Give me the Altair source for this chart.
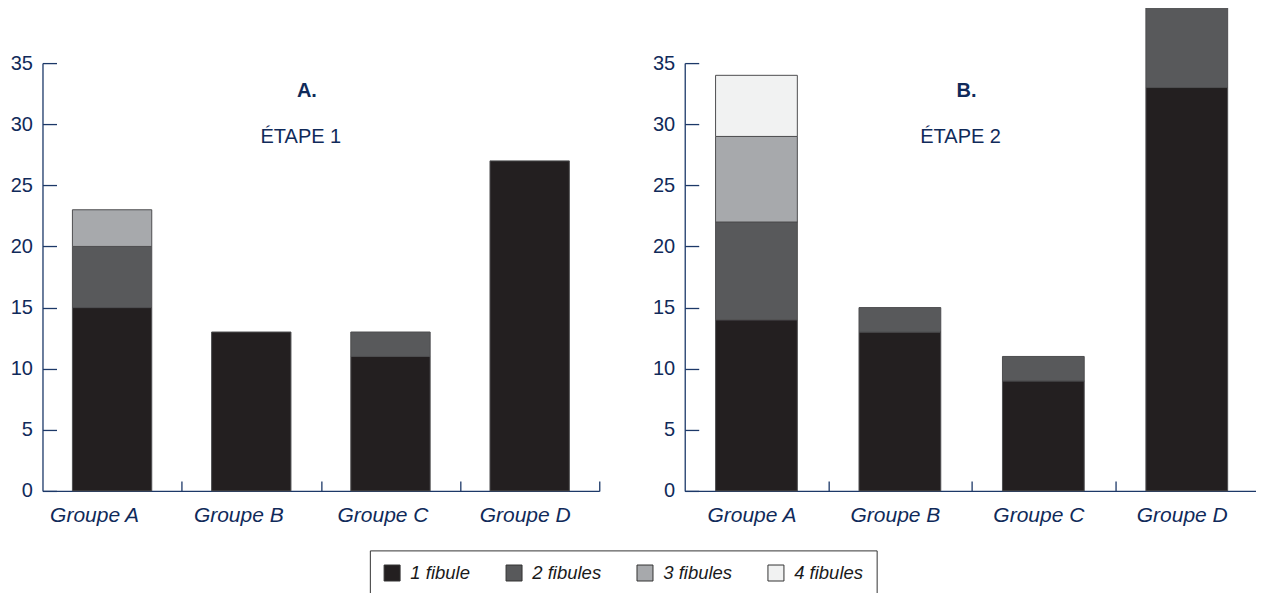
import altair as alt
import pandas as pd

groups = ["Groupe A", "Groupe B", "Groupe C", "Groupe D"]
categories = ["1 fibule", "2 fibules", "3 fibules", "4 fibules"]
colors = ["#231f20", "#58595b", "#a7a9ac", "#f1f2f2"]

# Étape 1 (panel A)
etape1_1 = [15, 13, 11, 27]
etape1_2 = [5, 0, 2, 0]
etape1_3 = [3, 0, 0, 0]
etape1_4 = [0, 0, 0, 0]

# Étape 2 (panel B)
etape2_1 = [14, 13, 9, 33]
etape2_2 = [8, 2, 2, 7]
etape2_3 = [7, 0, 0, 0]
etape2_4 = [5, 0, 0, 0]

y_ticks = [0, 5, 10, 15, 20, 25, 30, 35]

NAVY = "#102a5a"
AXIS = "#1c3868"
FONT = "Liberation Sans"


def make_df(series):
    rows = []
    for k, (cat, vals) in enumerate(zip(categories, series)):
        for g, v in zip(groups, vals):
            if v > 0:
                rows.append({"groupe": g, "fibules": cat, "n": v, "ordre": k})
    return pd.DataFrame(rows)


def panel(series, w, letter, etape, lx, ex, label_offset):
    df = make_df(series)
    half_step = w / len(groups) / 2
    bars = alt.Chart(df).mark_bar(stroke="#4d4d4f", strokeWidth=1).encode(
        x=alt.X(
            "groupe:N",
            sort=groups,
            scale=alt.Scale(domain=groups, paddingInner=0.43, paddingOuter=0.215),
            axis=alt.Axis(
                title=None,
                labelAngle=0,
                tickBand="center",
                tickOffset=half_step,
                tickSize=alt.ExprRef("-10"),
                labelPadding=24,
                labelFontStyle="italic",
                labelFontSize=21,
                labelOffset=label_offset(half_step),
            ),
        ),
        y=alt.Y(
            "n:Q",
            stack="zero",
            scale=alt.Scale(domain=[0, 35], nice=False),
            axis=alt.Axis(
                title=None,
                values=y_ticks,
                tickSize=alt.ExprRef("-14"),
                labelPadding=24,
                grid=False,
            ),
        ),
        color=alt.Color(
            "fibules:N",
            scale=alt.Scale(domain=categories, range=colors),
            legend=alt.Legend(
                title=None,
                orient="none",
                legendX=327.5,
                legendY=487.5,
                direction="horizontal",
                columns=4,
                symbolType="square",
                symbolSize=256,
                symbolStrokeColor="#333333",
                symbolStrokeWidth=1,
                labelFont=FONT,
                labelFontSize=18.5,
                labelFontStyle="italic",
                labelColor="#1a1a1a",
                labelOffset=9,
                columnPadding=33,
                padding=13,
                strokeColor="#333333",
                fillColor="white",
            ),
        ),
        order=alt.Order("ordre:Q"),
    )
    t1 = alt.Chart(pd.DataFrame({"t": [letter]})).mark_text(
        font=FONT, fontSize=20, fontWeight="bold", color=NAVY, align="center", baseline="alphabetic"
    ).encode(text="t:N", x=alt.value(lx), y=alt.value(33.5))
    t2 = alt.Chart(pd.DataFrame({"t": [etape]})).mark_text(
        font=FONT, fontSize=20, color=NAVY, align="center", baseline="alphabetic"
    ).encode(text="t:N", x=alt.value(ex), y=alt.value(79.5))
    return alt.layer(bars, t1, t2).properties(width=w, height=428)


def left_offsets(h):
    return {
        "condition": [
            {"test": "datum.value == 'Groupe A'", "value": -18 - h},
            {"test": "datum.value == 'Groupe B'", "value": -13 - h},
            {"test": "datum.value == 'Groupe C'", "value": -8 - h},
        ],
        "value": -5 - h,
    }


def right_offsets(h):
    return -5 - h


left = panel([etape1_1, etape1_2, etape1_3, etape1_4], 557, "A.", "ÉTAPE 1", 264.5, 258.5, left_offsets)
right = panel([etape2_1, etape2_2, etape2_3, etape2_4], 574, "B.", "ÉTAPE 2", 282, 276, right_offsets)

chart = (
    alt.hconcat(left, right, spacing=85.5, bounds="flush")
    .properties(padding={"left": 1.5, "top": -7, "right": -4, "bottom": 5})
    .configure_view(stroke=None)
    .configure_axis(
        domainColor=AXIS,
        domainWidth=1.3,
        tickColor=AXIS,
        tickWidth=1.3,
        labelColor=NAVY,
        labelFont=FONT,
        labelFontSize=20,
    )
)

chart.save("out.html", embed_options={"renderer": "svg", "actions": False})
